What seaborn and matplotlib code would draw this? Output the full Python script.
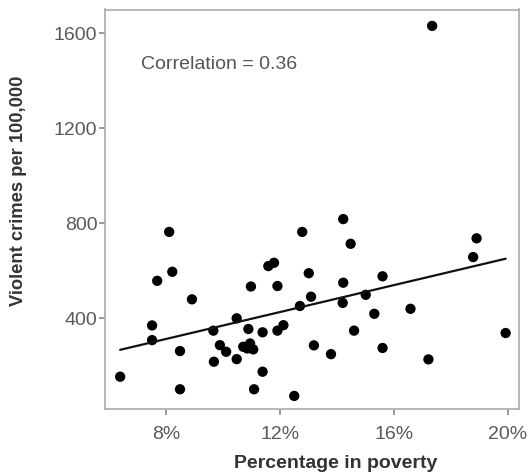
import matplotlib
matplotlib.use("Agg")
import matplotlib.pyplot as plt
import matplotlib.ticker as mticker
import pandas as pd
import seaborn as sns

# values (percent in poverty, violent crimes per 100,000)
poverty = [6.39, 7.51, 7.51, 7.69, 8.11, 8.22, 8.49, 8.49, 8.91, 9.66,
           9.68, 9.89, 10.11, 10.48, 10.48, 10.71, 10.85, 10.95, 11.06, 10.89,
           10.98, 11.09, 11.39, 11.39, 11.59, 11.79, 11.91, 11.91, 12.12, 12.50,
           12.70, 12.78, 13.01, 13.09, 13.19, 13.79, 14.22, 14.48, 14.22, 14.20,
           14.60, 15.01, 15.31, 15.60, 15.60, 16.58, 17.21, 17.34, 18.78, 18.90,
           19.92]
crimes = [153, 369, 307, 557, 763, 595, 261, 100, 479, 347,
          216, 286, 258, 399, 227, 279, 272, 293, 268, 354,
          533, 100, 340, 174, 619, 633, 535, 347, 370, 72,
          451, 763, 589, 490, 285, 248, 817, 713, 549, 464,
          347, 498, 418, 576, 274, 439, 226, 1631, 657, 736,
          337]
x_ticks = [8, 12, 16, 20]
y_ticks = [400, 800, 1200, 1600]
annotation = "Correlation = 0.36"

df = pd.DataFrame({"poverty": poverty, "crimes": crimes})

sns.set_style("white")
plt.rcParams["font.family"] = ["Liberation Sans", "DejaVu Sans"]

fig = plt.figure(figsize=(5.28, 4.75), dpi=100)
ax = fig.add_axes([0.199, 0.139, 0.784, 0.841])

sns.regplot(data=df, x="poverty", y="crimes", ax=ax, ci=None,
            scatter_kws={"s": 55, "color": "black", "edgecolor": "none", "alpha": 1},
            line_kws={"color": "#111111", "linewidth": 1.6})

ax.set_xlim(5.86, 20.39)
ax.set_ylim(17, 1700)
ax.set_xticks(x_ticks)
ax.set_yticks(y_ticks)
ax.xaxis.set_major_formatter(mticker.FuncFormatter(lambda v, _: f"{v:.0f}%"))

for sp in ax.spines.values():
    sp.set_visible(True)
    sp.set_color("#aaaaaa")
    sp.set_linewidth(1.2)

ax.tick_params(axis="both", which="major", direction="out", length=4, width=1.2,
               color="#888888", labelcolor="#5a5a5a", labelsize=14,
               bottom=True, left=True, top=False, right=False)
ax.tick_params(axis="x", pad=8)
ax.tick_params(axis="y", pad=1.5)

ax.set_xlabel("Percentage in poverty", fontsize=14, fontweight="bold",
              color="#333333")
ax.xaxis.set_label_coords(0.558, -0.115)
ax.set_ylabel("Violent crimes per 100,000", fontsize=13.2, fontweight="bold",
              color="#333333")
ax.yaxis.set_label_coords(-0.188, 0.546)

ax.text(0.087, 0.862, annotation, transform=ax.transAxes, fontsize=14,
        color="#555555", va="center", ha="left")

fig.savefig("out.png", dpi=100)
